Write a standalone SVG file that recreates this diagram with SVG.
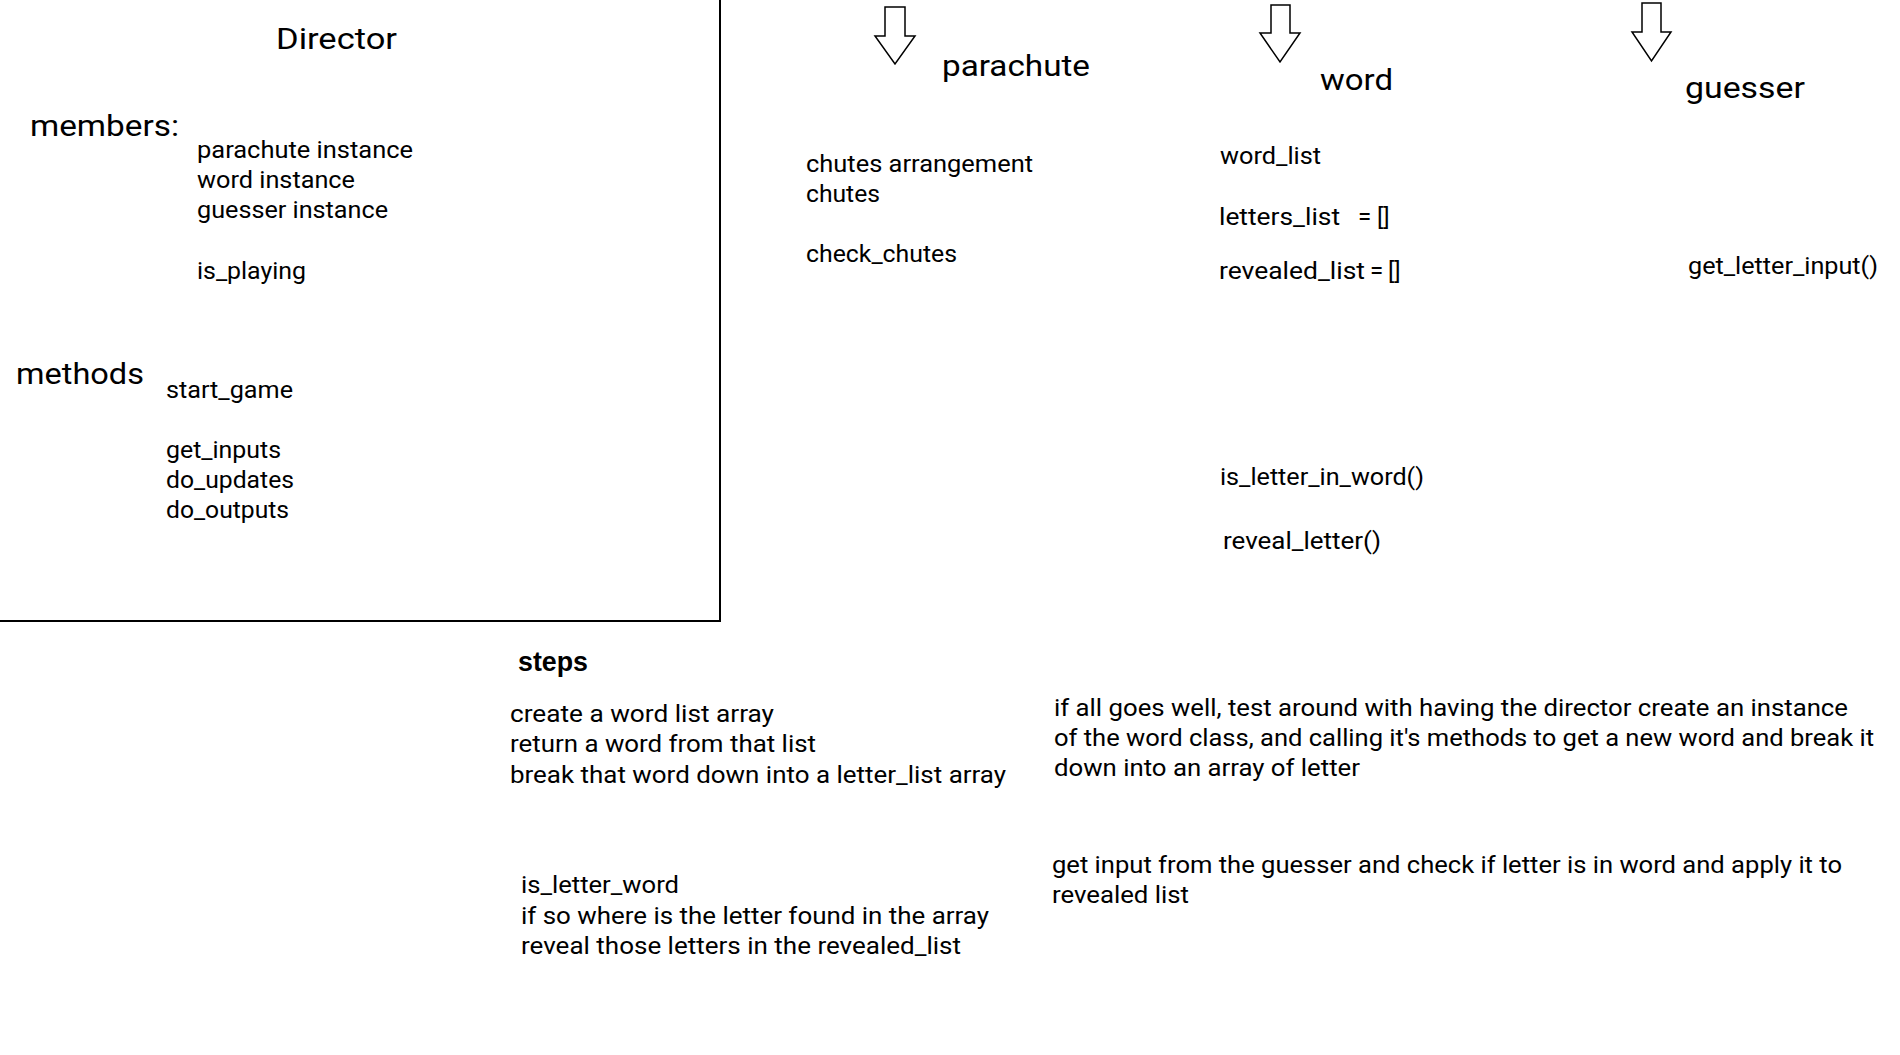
<svg xmlns="http://www.w3.org/2000/svg" width="1900" height="1055" viewBox="0 0 1900 1055">
<style>
text{font-family:Roboto,"Liberation Sans",sans-serif;fill:#000}
.b{font-size:24px}
.h{font-size:30px}
.s{font-family:"Liberation Sans",Arial,sans-serif;font-weight:bold;font-size:27px}
.arr{fill:#fff;stroke:#000;stroke-width:1.5}
</style>
<rect width="1900" height="1055" fill="#fff"/>
<g id="director">
<rect x="-2" y="-2" width="722" height="623" fill="none" stroke="#000" stroke-width="2"/>
<text class="h" x="276" y="49" textLength="121" lengthAdjust="spacingAndGlyphs">Director</text>
<text class="h" x="30" y="136" textLength="149" lengthAdjust="spacingAndGlyphs">members:</text>
<text class="b" x="197" y="158" textLength="216" lengthAdjust="spacingAndGlyphs">parachute instance</text>
<text class="b" x="197" y="188" textLength="158" lengthAdjust="spacingAndGlyphs">word instance</text>
<text class="b" x="197" y="218" textLength="191" lengthAdjust="spacingAndGlyphs">guesser instance</text>
<text class="b" x="197" y="279" textLength="109" lengthAdjust="spacingAndGlyphs">is_playing</text>
<text class="h" x="16" y="384" textLength="128" lengthAdjust="spacingAndGlyphs">methods</text>
<text class="b" x="166" y="398" textLength="127" lengthAdjust="spacingAndGlyphs">start_game</text>
<text class="b" x="166" y="458" textLength="115" lengthAdjust="spacingAndGlyphs">get_inputs</text>
<text class="b" x="166" y="488" textLength="128" lengthAdjust="spacingAndGlyphs">do_updates</text>
<text class="b" x="166" y="518" textLength="123" lengthAdjust="spacingAndGlyphs">do_outputs</text>
</g>
<g id="parachute">
<text class="h" x="942" y="76" textLength="148" lengthAdjust="spacingAndGlyphs">parachute</text>
<text class="b" x="806" y="172" textLength="227" lengthAdjust="spacingAndGlyphs">chutes arrangement</text>
<text class="b" x="806" y="202" textLength="74" lengthAdjust="spacingAndGlyphs">chutes</text>
<text class="b" x="806" y="262" textLength="151" lengthAdjust="spacingAndGlyphs">check_chutes</text>
</g>
<g id="word">
<text class="h" x="1320" y="90" textLength="73" lengthAdjust="spacingAndGlyphs">word</text>
<text class="b" x="1220" y="164" textLength="101" lengthAdjust="spacingAndGlyphs">word_list</text>
<text class="b" x="1219" y="225" textLength="121" lengthAdjust="spacingAndGlyphs">letters_list</text>
<text class="b" x="1358" y="225">=</text>
<text class="b" x="1377" y="225">[]</text>
<text class="b" x="1219" y="279" textLength="146" lengthAdjust="spacingAndGlyphs">revealed_list</text>
<text class="b" x="1370" y="279">=</text>
<text class="b" x="1388" y="279">[]</text>
<text class="b" x="1220" y="485" textLength="204" lengthAdjust="spacingAndGlyphs">is_letter_in_word()</text>
<text class="b" x="1223" y="549" textLength="158" lengthAdjust="spacingAndGlyphs">reveal_letter()</text>
</g>
<g id="guesser">
<text class="h" x="1685" y="98" textLength="120" lengthAdjust="spacingAndGlyphs">guesser</text>
<text class="b" x="1688" y="274" textLength="190" lengthAdjust="spacingAndGlyphs">get_letter_input()</text>
</g>
<g id="steps">
<text class="s" x="518" y="671" textLength="70" lengthAdjust="spacingAndGlyphs">steps</text>
<text class="b" x="510" y="722" textLength="264" lengthAdjust="spacingAndGlyphs">create a word list array</text>
<text class="b" x="510" y="752" textLength="306" lengthAdjust="spacingAndGlyphs">return a word from that list</text>
<text class="b" x="510" y="783" textLength="496" lengthAdjust="spacingAndGlyphs">break that word down into a letter_list array</text>
<text class="b" x="521" y="893" textLength="158" lengthAdjust="spacingAndGlyphs">is_letter_word</text>
<text class="b" x="521" y="924" textLength="468" lengthAdjust="spacingAndGlyphs">if so where is the letter found in the array</text>
<text class="b" x="521" y="954" textLength="440" lengthAdjust="spacingAndGlyphs">reveal those letters in the revealed_list</text>
</g>
<g id="notes">
<text class="b" x="1054" y="716" textLength="794" lengthAdjust="spacingAndGlyphs">if all goes well, test around with having the director create an instance</text>
<text class="b" x="1054" y="746" textLength="820" lengthAdjust="spacingAndGlyphs">of the word class, and calling it's methods to get a new word and break it</text>
<text class="b" x="1054" y="776" textLength="306" lengthAdjust="spacingAndGlyphs">down into an array of letter</text>
<text class="b" x="1052" y="873" textLength="790" lengthAdjust="spacingAndGlyphs">get input from the guesser and check if letter is in word and apply it to</text>
<text class="b" x="1052" y="903" textLength="137" lengthAdjust="spacingAndGlyphs">revealed list</text>
</g>
<g id="connectors">
<polygon class="arr" points="885,7 905,7 905,36 915,36 895,64 875,36 885,36"/>
<polygon class="arr" points="1271,5 1290,5 1290,33 1300,33 1280,62 1260,33 1271,33"/>
<polygon class="arr" points="1642,3 1661,3 1661,32 1671,32 1651.5,61 1632,32 1642,32"/>
</g>
</svg>
